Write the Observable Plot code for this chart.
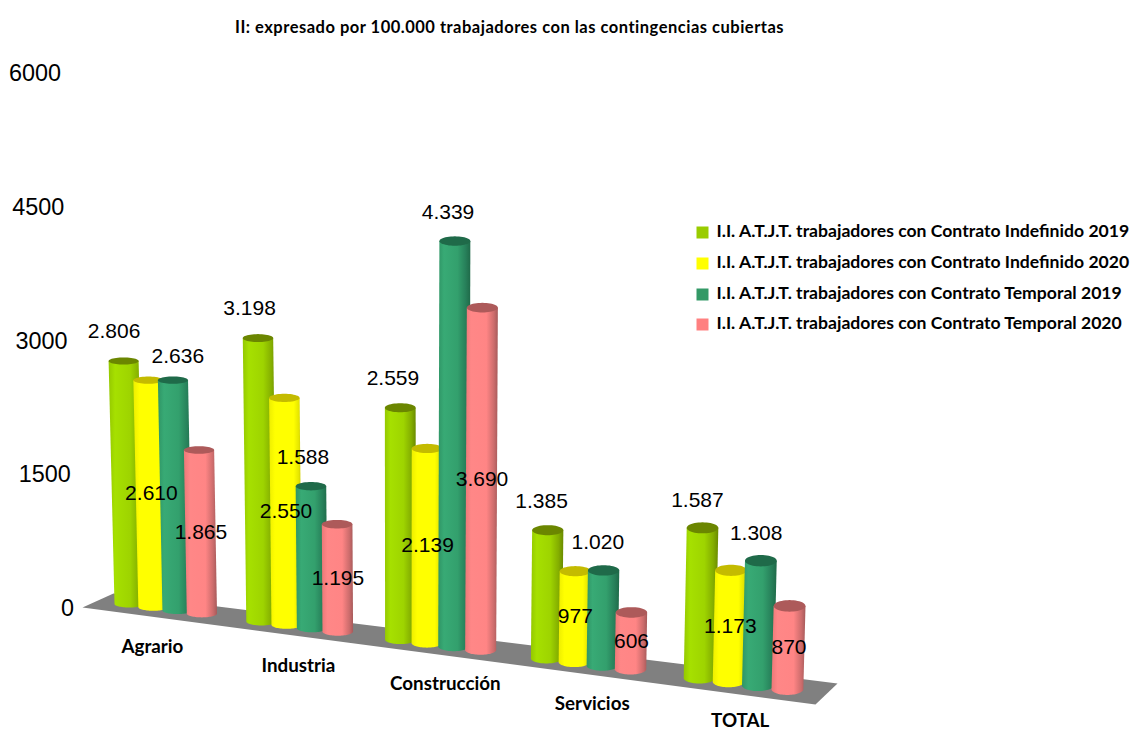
<!DOCTYPE html>
<html><head><meta charset="utf-8">
<script src="https://cdn.jsdelivr.net/npm/d3@7"></script>
<script src="https://cdn.jsdelivr.net/npm/@observablehq/plot@0.6"></script>
<style>
html,body{margin:0;padding:0;background:#fff}
#title{height:50px;box-sizing:border-box;padding-top:16px;padding-left:235px;font:700 16.5px/22px Lato,sans-serif;letter-spacing:.5px;color:#000;white-space:nowrap}
svg{display:block;overflow:visible}
</style></head><body>
<div id="title">II: expresado por 100.000 trabajadores con las contingencias cubiertas</div>
<div id="chart"></div>
<script>
// ---- data ----
const categories = ["Agrario","Industria","Construcción","Servicios","TOTAL"];
const indefinido2019 = [2806,3198,2559,1385,1587];
const indefinido2020 = [2610,2550,2139,977,1173];
const temporal2019   = [2636,1588,4339,1020,1308];
const temporal2020   = [1865,1195,3690,606,870];
const seriesNames = [
  "I.I. A.T.J.T. trabajadores con Contrato Indefinido 2019",
  "I.I. A.T.J.T. trabajadores con Contrato Indefinido 2020",
  "I.I. A.T.J.T. trabajadores con Contrato Temporal 2019",
  "I.I. A.T.J.T. trabajadores con Contrato Temporal 2020"];
const axisTicks = [0,1500,3000,4500,6000];

// ---- styles ----
const legendColors = ["#99cc00","#ffff00","#339966","#ff8080"];
const gradients = [
  [["0%","#94c800"],["18%","#a6e000"],["60%","#9ed400"],["85%","#84ae00"],["100%","#6a8a00"]],
  [["0%","#eeee00"],["18%","#ffff00"],["75%","#ffff00"],["90%","#e6e600"],["100%","#c4c000"]],
  [["0%","#2f9566"],["18%","#38aa75"],["60%","#33a06d"],["85%","#27805a"],["100%","#1f6a49"]],
  [["0%","#ec7878"],["18%","#ff8787"],["65%","#ff8585"],["88%","#cc6c6c"],["100%","#a65a5a"]]];
const capColors = ["#6b8600","#c4bb00","#1f6a49","#ad5a5a"];

// ---- oblique projection of the 3-D floor onto the page ----
const pageTop = 50, y0Px = 608, yTopPx = 73, pxPerUnit = (y0Px - yTopPx) / 6000;
const toY = (py) => (y0Px - py) / pxPerUnit;             // page pixel -> y scale unit
const depth = (c, s) => c + s * 0.185;
const baseX = (u) => 129 + 128.5 * u + 3.5 * u * u;
const baseBottom = (u) => 607 + 17.6 * u + 0.35 * u * u;
const rx = (u) => 15 + 0.2 * u;
const ry = (u) => 3.5 + 0.5 * u;
const rise = (u, v) => v * (0.0866 + 0.002 * u) + Math.max(0, v - 3200) * 0.008;
const lean = (u, v) => v * (-0.0021 + 0.001 * u);

const seriesValues = [indefinido2019, indefinido2020, temporal2019, temporal2020];
const fmt = d3.formatLocale({decimal:",",thousands:".",grouping:[3],currency:["",""]}).format(",");

const bars = categories.flatMap((name, c) => seriesValues.map((vals, s) => {
  const u = depth(c, s), v = vals[c];
  const cyBase = baseBottom(u) - ry(u);
  return {c, s, u, v, cxBase: baseX(u), cyBase, cxTop: baseX(u) + lean(u, v), cyTop: cyBase - rise(u, v)};
}));

const steps = d3.range(0, 37).map(i => i / 36 * Math.PI);
function bodyPath(b) {
  const R = rx(b.u), Q = ry(b.u);
  const pts = [[b.cxTop - R, b.cyTop], [b.cxTop + R, b.cyTop]];
  for (const t of steps) pts.push([b.cxBase + R * Math.cos(t), b.cyBase + Q * Math.sin(t)]);
  return pts;
}
function capPath(b) {
  const R = rx(b.u), Q = ry(b.u);
  return d3.range(0, 48).map(i => {
    const t = i / 48 * 2 * Math.PI;
    return [b.cxTop + R * Math.cos(t), b.cyTop + Q * Math.sin(t)];
  });
}
const px = { x: d => d[0], y: d => toY(d[1]) };

// floor slab outline, pixel corners of the slab on the page
const floorCorners = [[82,607],[113,593],[837,683],[815,704]];

// value-label placement
const labelNudge = new Map([["0-2",[14,6]]]);
function labelPos(b) {
  let x, y;
  if (b.s === 0 || b.s === 2) { x = b.cxTop - 9.5 + 1.1 * b.u; y = b.cyTop - 30 + 0.5 * b.u; }
  else { x = (b.cxTop + b.cxBase) / 2 + 0.5; y = (b.cyTop + b.cyBase) / 2; }
  const n = labelNudge.get(b.c + "-" + b.s);
  if (n) { x += n[0]; y += n[1]; }
  return [x, y];
}
const catNudge = [-13,-1,5,4,-3];
const legendRows = [231,262,293,323];

const defs = () => {
  const d = d3.create("svg:defs");
  gradients.forEach((stops, i) => {
    const g = d.append("linearGradient").attr("id", "g" + i).attr("x1", 0).attr("x2", 1).attr("y1", 0).attr("y2", 0);
    stops.forEach(([o, col]) => g.append("stop").attr("offset", o).attr("stop-color", col));
  });
  return d.node();
};

const sans = "Liberation Sans, Arial, sans-serif";
const lato = "Lato, sans-serif";

const plot = Plot.plot({
  width: 1131, height: 681,
  margin: 0,
  style: {background: "#fff", overflow: "visible"},
  x: {domain: [0, 1131], range: [0, 1131], axis: null},
  y: {domain: [0, 6000], range: [y0Px - pageTop, yTopPx - pageTop], axis: null},
  marks: [
    defs,
    Plot.line(floorCorners.concat([floorCorners[0]]), {...px, fill: "#808080", stroke: "none"}),
    ...bars.flatMap(b => [
      Plot.line(bodyPath(b), {...px, fill: `url(#g${b.s})`, stroke: "none"}),
      Plot.line(capPath(b), {...px, fill: capColors[b.s], stroke: "none"})
    ]),
    // y axis labels follow the slanted wall of the chart
    Plot.text(axisTicks, {x: t => 73.5 - t * 13 / 6000, y: t => t, text: t => String(t),
      textAnchor: "end", fontSize: 23.4, fontFamily: sans, fill: "#000"}),
    // value labels
    Plot.text(bars, {x: b => labelPos(b)[0], y: b => toY(labelPos(b)[1]), text: b => fmt(b.v),
      fontSize: 21, fontFamily: sans, fill: "#000"}),
    // category labels
    Plot.text(categories, {
      x: (d, i) => baseX(depth(i, 1.5)) + catNudge[i],
      y: (d, i) => toY(Math.min(baseBottom(depth(i, 1.5)) + 35, 720)),
      text: d => d, fontSize: 18.8, fontWeight: 700, fontFamily: lato, fill: "#000"}),
    // legend
    Plot.dot(seriesNames, {x: () => 702, y: (d, i) => toY(legendRows[i] + 1), symbol: "square", r: 6.77,
      fill: (d, i) => legendColors[i], stroke: "none"}),
    Plot.text(seriesNames, {x: () => 716, y: (d, i) => toY(legendRows[i]), text: d => d,
      textAnchor: "start", fontSize: 17.6, fontWeight: 700, fontFamily: lato, fill: "#000"})
  ],
  color: {type: "identity"}
});
document.getElementById("chart").append(plot);
</script>
</body></html>
